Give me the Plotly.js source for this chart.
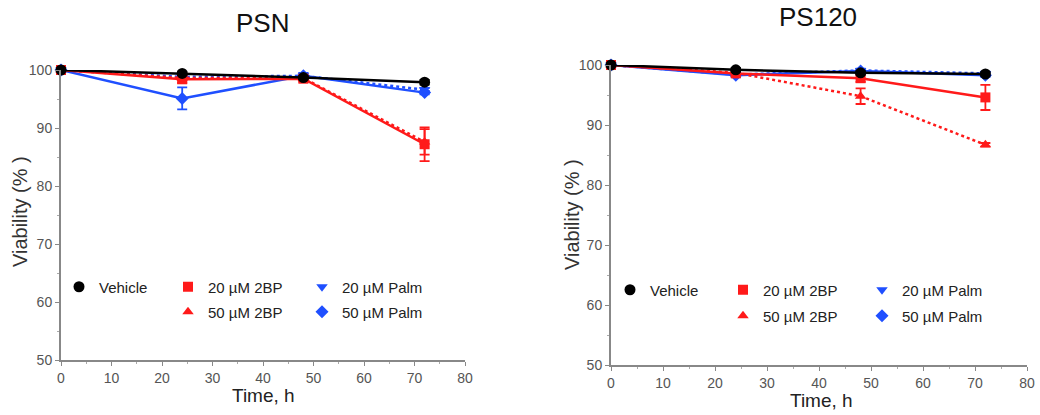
<!DOCTYPE html>
<html><head><meta charset="utf-8">
<script src="https://cdn.plot.ly/plotly-3.0.1.min.js"></script>
<style>body{margin:0;background:#fff}#c{width:1040px;height:415px}</style>
</head><body><div id="c"></div>
<script>
const time = [0, 24, 48, 72];
const seriesNames = ["Vehicle", "20 µM 2BP", "50 µM 2BP", "20 µM Palm", "50 µM Palm"];
// PSN
const psnVehicle = [100, 99.4, 98.7, 97.9];
const psnVehicleErr = [0, 0.3, 0.3, 0.4];
const psn2bp20 = [100, 98.4, 98.5, 87.2];
const psn2bp20Err = [0, 0.6, 0.5, 2.9];
const psn2bp50 = [100, 98.6, 98.6, 87.6];
const psn2bp50Err = [0, 0.4, 0.4, 2.2];
const psnPalm20 = [100, 98.8, 99.0, 96.6];
const psnPalm20Err = [0, 0.3, 0.4, 0.3];
const psnPalm50 = [100, 95.1, 99.0, 96.1];
const psnPalm50Err = [0, 1.9, 0.5, 0.3];
// PS120
const psVehicle = [100, 99.2, 98.7, 98.5];
const psVehicleErr = [0, 0.3, 0.3, 0.3];
const ps2bp20 = [100, 98.6, 97.8, 94.6];
const ps2bp20Err = [0, 0.4, 0.6, 2.1];
const ps2bp50 = [100, 98.7, 94.8, 86.7];
const ps2bp50Err = [0, 0.3, 1.3, 0.3];
const psPalm20 = [100, 98.4, 99.1, 98.6];
const psPalm20Err = [0, 0.3, 0.3, 0.3];
const psPalm50 = [100, 98.3, 99.0, 98.3];
const psPalm50Err = [0, 0.3, 0.3, 0.3];

const styles = [
  {color: "#000000", symbol: "circle", dash: "solid", size: 11},
  {color: "#ff1a1a", symbol: "square", dash: "solid", size: 10},
  {color: "#ff1a1a", symbol: "triangle-up", dash: "dot", size: 10},
  {color: "#1f4fff", symbol: "triangle-down", dash: "dot", size: 10},
  {color: "#1f4fff", symbol: "diamond", dash: "solid", size: 10}
];
const psnData = [[psnVehicle, psnVehicleErr], [psn2bp20, psn2bp20Err], [psn2bp50, psn2bp50Err], [psnPalm20, psnPalm20Err], [psnPalm50, psnPalm50Err]];
const psData = [[psVehicle, psVehicleErr], [ps2bp20, ps2bp20Err], [ps2bp50, ps2bp50Err], [psPalm20, psPalm20Err], [psPalm50, psPalm50Err]];

// legend placement (pixels): [legend left x, item center y] per series
const legPosL = [[59, 287], [168, 287], [168, 312], [302, 287], [302, 312]];
const legPosR = [[610, 290], [723, 290], [723, 316], [862, 290], [862, 316]];

const traces = [];
const layoutLegends = {};
let legIdx = 1;
const legFont = {family: "Liberation Sans, Arial, sans-serif", size: 15, color: "#222"};
function addSet(data, xa, ya, pos) {
  const order = [4, 3, 2, 1, 0];
  order.forEach(i => {
    const s = styles[i];
    traces.push({
      x: time, y: data[i][0], type: "scatter", mode: "lines+markers",
      name: seriesNames[i], xaxis: xa, yaxis: ya, showlegend: false,
      line: {color: s.color, width: 2.5, dash: s.dash},
      marker: {color: s.color, symbol: s.symbol, size: s.size},
      error_y: {type: "data", array: data[i][1], visible: true, color: s.color, thickness: 1.8, width: 5},
      cliponaxis: false
    });
  });
  for (let i = 0; i < 5; i++) {
    const s = styles[i];
    const key = legIdx === 1 ? "legend" : "legend" + legIdx;
    traces.push({x: [null], y: [null], type: "scatter", mode: "markers", name: seriesNames[i],
      xaxis: xa, yaxis: ya, legend: key, showlegend: true,
      marker: {color: s.color, symbol: s.symbol, size: s.size}});
    layoutLegends[key] = {x: pos[i][0] / 1040, y: 1 - pos[i][1] / 415, xanchor: "left", yanchor: "middle",
      font: legFont, bgcolor: "rgba(0,0,0,0)", itemwidth: 30, borderwidth: 0};
    legIdx++;
  }
}
addSet(psnData, "x", "y", legPosL);
addSet(psData, "x2", "y2", legPosR);

const axisFont = {family: "Liberation Sans, Arial, sans-serif", size: 14, color: "#555"};
function xax(domain, anchor) {
  return {domain: domain, anchor: anchor, range: [0, 80], dtick: 10, tick0: 0,
    showgrid: false, zeroline: false, showline: true, linecolor: "#888", linewidth: 2,
    ticks: "outside", ticklen: 4, tickcolor: "#888", tickfont: axisFont,
    minor: {dtick: 5, ticks: "outside", ticklen: 2, tickcolor: "#aaa"}};
}
function yax(domain, anchor) {
  return {domain: domain, anchor: anchor, range: [50, 100], dtick: 10, tick0: 50,
    showgrid: false, zeroline: false, showline: true, linecolor: "#888", linewidth: 2,
    ticks: "outside", ticklen: 4, tickcolor: "#888", tickfont: axisFont,
    minor: {dtick: 5, ticks: "outside", ticklen: 2, tickcolor: "#aaa"}};
}
const F = "Liberation Sans, Arial, sans-serif";
function ann(text, x, y, size, color, angle) {
  return {text: text, x: x / 1040, y: 1 - y / 415, xref: "paper", yref: "paper", showarrow: false,
    xanchor: "center", yanchor: "middle", textangle: angle || 0, font: {family: F, size: size, color: color}};
}
const layout = Object.assign({
  width: 1040, height: 415, margin: {l: 0, r: 0, t: 0, b: 0},
  paper_bgcolor: "#fff", plot_bgcolor: "#fff", showlegend: true,
  xaxis: xax([61/1040, 465/1040], "y"),
  yaxis: yax([1 - 360/415, 1 - 70/415], "x"),
  xaxis2: xax([611/1040, 1027/1040], "y2"),
  yaxis2: yax([1 - 365/415, 1 - 65/415], "x2"),
  annotations: [
    ann("PSN", 262, 23, 26, "#111"),
    ann("PS120", 818, 17, 26, "#111"),
    ann("Time, h", 263, 395, 19, "#222"),
    ann("Time, h", 821, 400, 19, "#222"),
    ann("Viability (% )", 20, 212, 20, "#333", -90),
    ann("Viability (% )", 572, 215, 20, "#333", -90)
  ]
}, layoutLegends);
Plotly.newPlot("c", traces, layout, {staticPlot: true});
</script></body></html>
